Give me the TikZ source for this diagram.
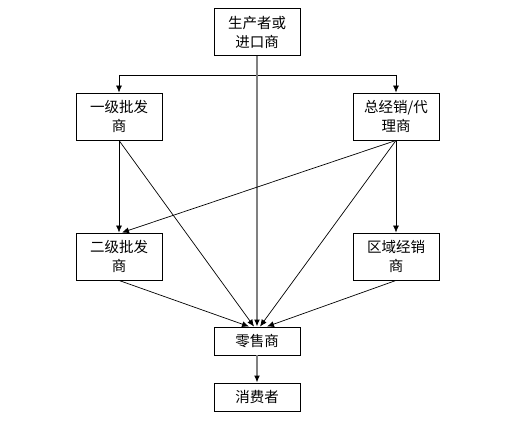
\documentclass[tikz,border=0pt]{standalone}
\usepackage{fontspec}
\newfontfamily\cjk{Noto Sans CJK SC}
\usetikzlibrary{arrows.meta,calc}
\begin{document}
\begin{tikzpicture}[x=1pt,y=1pt,
  box/.style={draw=black,line width=0.9pt,fill=white,minimum width=86pt,align=center,inner sep=0pt,font=\cjk\fontsize{14.5}{19}\selectfont},
  tall/.style={box,minimum height=47pt},
  short/.style={box,minimum height=28pt},
  conn/.style={line width=0.7pt,draw=black,-{Latex[length=7pt,width=6pt,fill=black]}},
  gconn/.style={line width=1.3pt,draw=black!50,-{Latex[length=7pt,width=6pt,fill=black,color=black]}}]
\useasboundingbox (0,0) rectangle (511,422);
\node[tall] (top) at (257,390) {生产者或\\进口商};
\node[tall] (l1) at (119,305.5) {一级批发\\商};
\node[tall] (r1) at (396,305.5) {总经销/代\\理商};
\node[tall] (l2) at (119,165.5) {二级批发\\商};
\node[tall] (r2) at (396,165.5) {区域经销\\商};
\node[short] (ret) at (257,81) {零售商};
\node[short] (con) at (257,25) {消费者};
\coordinate (hl) at (119,347);
\coordinate (hr) at (396,347);
\coordinate (rA) at ($(ret.north)+(-8,0)$);
\coordinate (rB) at ($(ret.north)+(-3,0)$);
\coordinate (rC) at ($(ret.north)+(3,0)$);
\coordinate (rD) at ($(ret.north)+(10,0)$);
\coordinate (l2t) at ($(l2.north)+(3,0)$);
\draw[line width=0.9pt] (hl) -- (hr);
\draw[conn] (hl) -- (l1.north);
\draw[conn] (hr) -- (r1.north);
\draw[gconn] (top.south) -- (ret.north);
\draw[conn] (l1.south) -- (l2.north);
\draw[conn] (l1.south) -- (rB);
\draw[conn] (r1.south) -- (l2t);
\draw[conn] (r1.south) -- (rC);
\draw[conn] (r1.south) -- (r2.north);
\draw[conn] (l2.south) -- (rA);
\draw[conn] (r2.south) -- (rD);
\draw[gconn] (ret.south) -- (con.north);
\end{tikzpicture}
\end{document}
